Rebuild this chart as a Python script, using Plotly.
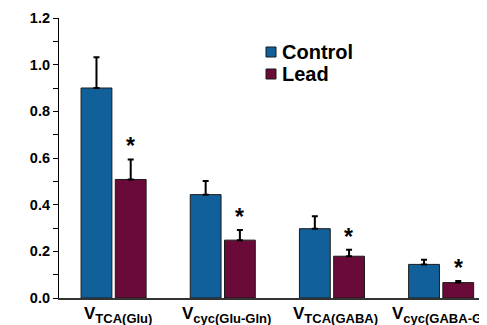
import plotly.graph_objects as go

categories = ["TCA(Glu)", "cyc(Glu-Gln)", "TCA(GABA)", "cyc(GABA-Gln)"]
control = [0.900, 0.443, 0.297, 0.144]
control_err = [0.132, 0.058, 0.053, 0.020]
lead = [0.508, 0.248, 0.179, 0.066]
lead_err = [0.086, 0.043, 0.028, 0.007]
stars = ["*", "*", "*", "*"]
series_names = ["Control", "Lead"]
colors = ["#12609a", "#6a0a38"]

FONT = "Liberation Sans, Arial, sans-serif"
line = dict(color="#1a1a1a", width=1)
xs = list(range(len(categories)))

# the page body has an 8px margin; figure coordinates are page coords - 8
OFF = 8
W, H = 487 - OFF, 325 - OFF
L, T, B = 59 - OFF, 18 - OFF, 298 - OFF
PW, PH = W - L, B - T

fig = go.Figure()
for name, vals, errs, col in [(series_names[0], control, control_err, colors[0]),
                              (series_names[1], lead, lead_err, colors[1])]:
    fig.add_trace(go.Bar(
        name=name, x=xs, y=vals,
        marker=dict(color=col, line=line),
        error_y=dict(type="data", array=errs, arrayminus=[0] * len(errs),
                     symmetric=False, color="black", thickness=2, width=3),
    ))

# significance stars above Lead bars
for i, s in enumerate(stars):
    fig.add_annotation(x=i, y=lead[i] + lead_err[i], xshift=17, yshift=13,
                       text="<b>%s</b>" % s, showarrow=False,
                       font=dict(family=FONT, size=23, color="black"))

# category labels V with subscripts
for i, c in enumerate(categories):
    fig.add_annotation(x=i, y=0, yref="paper", xanchor="center", yanchor="top",
                       yshift=-4, xshift=4, showarrow=False,
                       text="<b>V<sub><span style='font-size:13px'>%s</span></sub></b>" % c,
                       font=dict(family=FONT, size=17, color="black"))

# legend (drawn manually to match layout), positions in page pixels
def px(x):
    return (x - OFF - L) / PW
def py(y):
    return (B - (y - OFF)) / PH
legend_rows = [(47, 57, 52), (69, 79, 74)]
for (y0, y1, yc), name, col in zip(legend_rows, series_names, colors):
    fig.add_shape(type="rect", xref="paper", yref="paper",
                  x0=px(266), x1=px(276), y0=py(y1), y1=py(y0),
                  fillcolor=col, line=dict(color="#1a1a1a", width=1))
    fig.add_annotation(x=px(280), y=py(yc), xref="paper", yref="paper",
                       xanchor="left", yanchor="middle", showarrow=False,
                       text="<b>%s</b>" % name,
                       font=dict(family=FONT, size=20, color="black"))

fig.update_layout(
    width=W, height=H,
    margin=dict(l=L, r=0, t=T, b=H - B, autoexpand=False),
    paper_bgcolor="white", plot_bgcolor="white",
    barmode="group", bargap=0.373, bargroupgap=0.10,
    font=dict(family=FONT, color="black"),
    showlegend=False,
)
fig.update_xaxes(
    range=[-0.5, 3.42], showline=True, linecolor="#333333", linewidth=1.5,
    ticks="", showticklabels=False, automargin=False,
    showgrid=False, zeroline=False,
)
fig.update_yaxes(
    range=[0, 1.2], tickvals=[0, 0.2, 0.4, 0.6, 0.8, 1.0, 1.2],
    ticktext=["<b>0.0</b>", "<b>0.2</b>", "<b>0.4</b>", "<b>0.6</b>",
              "<b>0.8</b>", "<b>1.0</b>", "<b>1.2</b>"],
    ticks="outside", ticklen=5, tickwidth=1.2, tickcolor="black",
    minor=dict(dtick=0.1, tick0=0, ticks="outside", ticklen=5, tickwidth=1.2,
               tickcolor="black", showgrid=False),
    showline=True, linecolor="black", linewidth=1.2, automargin=False,
    tickfont=dict(family=FONT, size=14.5, color="black"),
    showgrid=False, zeroline=False,
)

fig.write_html("out.html")
